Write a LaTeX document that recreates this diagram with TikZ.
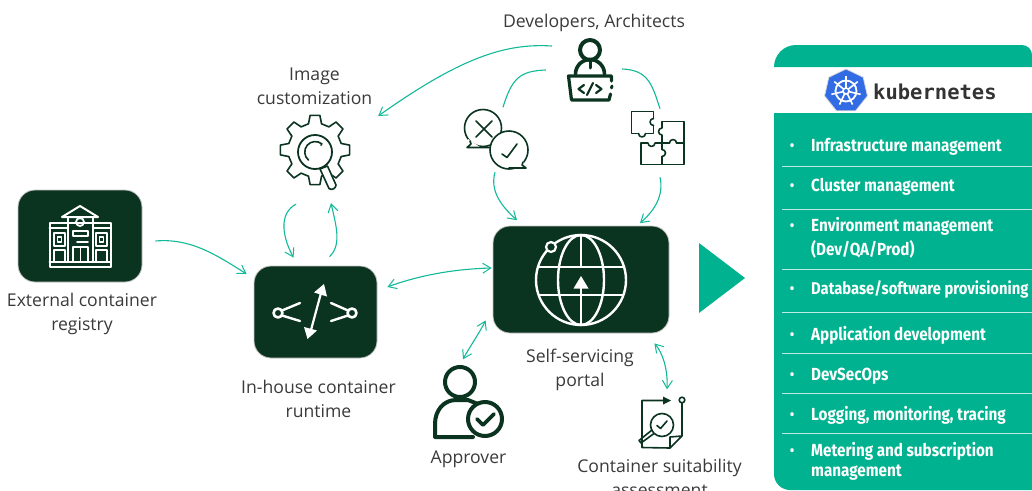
\documentclass[tikz,border=0pt]{standalone}
\usepackage{fontspec}
\usetikzlibrary{arrows.meta}
\setmainfont{Open Sans}
\newfontfamily\listf{Fira Sans}[FakeStretch=0.87]
\newfontfamily\kubef{DejaVu Sans Mono}
\definecolor{dk}{HTML}{0A3320}
\definecolor{tl}{HTML}{00B28F}
\definecolor{cn}{HTML}{12B998}
\definecolor{tx}{HTML}{3A3A3A}
\definecolor{kb}{HTML}{326CE5}
\tikzset{
  x=1pt,y=-1pt,
  darkbox/.style={draw=black!22,line width=.8pt,fill=dk,rounded corners=17pt,inner sep=0pt,minimum width=#1},
  iconbox/.style={inner sep=0pt,minimum width=#1},
  lbl/.style={font=\fontsize{17.6}{24}\selectfont,text=tx,align=center,inner sep=0pt},
  rowtxt/.style={font=\listf\bfseries\fontsize{17.5}{20}\selectfont,text=white,anchor=base west,align=left,inner sep=0pt},
  bul/.style={font=\fontsize{16}{16}\selectfont,text=white,anchor=center,inner sep=0pt,yshift=-3pt},
  conn/.style={draw=cn,line width=1.1pt,-{Straight Barb[length=8pt,width=10pt,line width=1pt]}},
  conn2/.style={draw=cn,line width=1.1pt,{Straight Barb[length=8pt,width=10pt,line width=1pt]}-{Straight Barb[length=8pt,width=10pt,line width=1pt]}},
  plainc/.style={draw=cn,line width=1.1pt},
  wi/.style={draw=white,line width=2pt,line join=round,line cap=round},
  di/.style={draw=dk,line width=1.6pt,line join=round,line cap=round},
  dt/.style={draw=dk,line width=4pt,line join=round,line cap=round},
  sep/.style={draw=white,draw opacity=.75,line width=1pt}
}
\newcommand{\knob}[4]{% x y dx dy : gap in a border for a puzzle notch
  \draw[draw=white,line width=2.2pt] (#1,#2) -- ++(#3*3.2,#4*3.2) ++(-#3*6.4,-#4*6.4) -- ++(#3*3.2,#4*3.2);
}
\begin{document}
\begin{tikzpicture}
\useasboundingbox (0,0) rectangle (1032,490);
\clip (0,0) rectangle (1032,490);

% ---------- main boxes
\node[darkbox=124pt,minimum height=92pt] (ext) at (80,236) {};
\node[darkbox=123pt,minimum height=92pt] (run) at (315.5,312) {};
\node[darkbox=176pt,minimum height=107pt] (por) at (581,279.5) {};

% ---------- icon holders
\node[iconbox=48pt,minimum height=65pt] (dev) at (590,70) {};
\node[iconbox=70pt,minimum height=76pt] (img) at (315,153) {};
\node[iconbox=66pt,minimum height=60pt] (bub) at (497,140) {};
\node[iconbox=56pt,minimum height=56pt] (puz) at (658,138) {};
\node[iconbox=73pt,minimum height=73pt] (app) at (468,402) {};
\node[iconbox=45pt,minimum height=55pt] (ass) at (662,423) {};

% ---------- labels
\node[lbl] (ldev) at (594,22.5) {Developers, Architects};
\node[lbl] (limg) at (314.5,86) {Image\\customization};
\node[lbl] (lext) at (82,314) {External container\\registry};
\node[lbl] (lrun) at (318.5,399) {In-house container\\runtime};
\node[lbl] (lpor) at (580,369.5) {Self-servicing\\portal};
\node[lbl] (lapp) at (468.5,459) {Approver};
\node[lbl] (lass) at (659.5,478) {Container suitability\\assessment};

% ---------- connectors
\draw[conn] ([shift={(-14,-24)}]dev.west) .. controls (505,43) and (460,58) .. ([shift={(28,-37)}]img.east);
\draw[plainc] ([shift={(-20,0)}]dev.west) .. controls (520,71) and (512,78) .. ([shift={(6,-63)}]bub.south);
\draw[conn] ([shift={(-2,2)}]bub.south) .. controls (490,190) and (500,205) .. ([shift={(20,50)}]bub.south);
\draw[plainc] ([shift={(8,-1)}]dev.east) .. controls (648,70) and (652,84) .. ([shift={(2,-1)}]puz.north);
\draw[conn] ([shift={(2,11)}]puz.south) .. controls (664,195) and (655,210) .. ([shift={(-18,57)}]puz.south);
\draw[conn] ([shift={(13,5)}]ext.east) .. controls (190,238) and (215,254) .. ([shift={(-7,-38)}]run.west);
\draw[conn] ([shift={(14,-9)}]run.north) .. controls (342,245) and (336,225) .. ([shift={(16,12)}]img.south);
\draw[conn] ([shift={(-19,13)}]img.south) .. controls (281,212) and (280,232) .. ([shift={(-22,-8)}]run.north);
\draw[conn2] ([shift={(10,-25)}]run.east) .. controls (420,275) and (455,269) .. ([shift={(-1,-11.5)}]por.west);
\draw[conn2] ([shift={(-5,-6)}]app.north) .. controls (469,348) and (480,332) .. ([shift={(-7,-13)}]por.south west);
\draw[conn2] ([shift={(-15,10)}]por.south east) .. controls (662,352) and (668,368) .. ([shift={(5,-6)}]ass.north);

% ---------- big triangle
\fill[tl] (699,243) -- (745,278) -- (699,313) -- cycle;

% ---------- right panel
\fill[tl] (774,67) arc[start angle=180,end angle=270,radius=22] -- (1022,45) arc[start angle=270,end angle=360,radius=10] -- (1032,67) -- cycle;
\fill[tl] (774,113) -- (1032,113) -- (1032,490) -- (790,490) arc[start angle=90,end angle=180,radius=16] -- cycle;
\foreach \yy in {166,209,269,312,353,393,433} \draw[sep] (782,\yy) -- (1032,\yy);

\node[bul] (b1) at (792,145) {•};
\node[rowtxt] (r1) at (811,151) {Infrastructure management};
\node[bul] (b2) at (792,185) {•};
\node[rowtxt] (r2) at (811,191) {Cluster management};
\node[bul] (b3) at (792,225) {•};
\node[rowtxt,font=\listf\bfseries\fontsize{17.5}{24}\selectfont] (r3) at (811,255) {Environment management\\(Dev/QA/Prod)};
\node[bul] (b4) at (792,288) {•};
\node[rowtxt,font=\listf\bfseries\fontsize{17}{20}\selectfont] (r4) at (811,294) {Database/software provisioning};
\node[bul] (b5) at (792,334) {•};
\node[rowtxt] (r5) at (811,340) {Application development};
\node[bul] (b6) at (792,374) {•};
\node[rowtxt] (r6) at (811,380) {DevSecOps};
\node[bul] (b7) at (792,414) {•};
\node[rowtxt] (r7) at (811,420) {Logging, monitoring, tracing};
\node[bul] (b8) at (792,450) {•};
\node[rowtxt] (r8) at (811,476) {Metering and subscription\\management};

% ---------- kubernetes logo
\begin{scope}[shift={(846,91)}]
  \fill[kb,draw=black!15,line width=.8pt,line join=round] (-90:22) -- (-141.4:22) -- (-192.9:22) -- (-244.3:22) -- (-295.7:22) -- (-347.1:22) -- (-38.6:22) -- cycle;
  \draw[white,line width=1.8pt] (0,0) circle[radius=10.5];
  \foreach \a in {-90,-141.4,-192.9,-244.3,-295.7,-347.1,-38.6} \draw[white,line width=1.6pt] (\a:3) -- (\a:15);
  \draw[white,line width=1.6pt] (0,0) circle[radius=3];
\end{scope}
\node[font=\kubef\bfseries\fontsize{20.5}{20}\selectfont,text=black!80,anchor=base west,inner sep=0pt] (kube) at (873,99) {kubernetes};

% ---------- building icon
\draw[wi] (49.5,222.5) rectangle (111,267);
\draw[wi] (49.5,262) -- (111,262);
\draw[wi] (49.5,228) -- (68,228) (93,228) -- (111,228);
\draw[wi] (68,217) -- (68,262) (93,217) -- (93,262);
\draw[wi] (62,217) -- (80,206) -- (98,217) -- cycle;
\draw[wi,line width=1.8pt] (80,222) circle[radius=4];
\draw[wi,line width=1.6pt] (54,233) rectangle (65,246) (57.5,237) rectangle (61.5,242);
\draw[wi,line width=1.6pt] (96,233) rectangle (107,246) (99.5,237) rectangle (103.5,242);
\draw[wi,line width=1.6pt] (54,262) -- (54,250) -- (65,250) -- (65,262);
\draw[wi,line width=1.6pt] (96,262) -- (96,250) -- (107,250) -- (107,262);
\draw[wi,line width=1.6pt] (73,262) -- (73,247) -- (88,247) -- (88,262) (80.5,247) -- (80.5,262);
\draw[wi,line width=1.6pt] (73,231) rectangle (88,236);
\draw[wi,line width=1.6pt] (77,242) -- (88,242);

% ---------- runtime icon
\draw[wi,line width=2.6pt] (278,313) circle[radius=4.5];
\draw[wi,line width=2.4pt] (282,310.5) -- (300,303) (282,315.5) -- (300,321);
\draw[wi,line width=2.6pt] (352,313) circle[radius=4.5];
\draw[wi,line width=2.4pt] (348,310.5) -- (331,303) (348,315.5) -- (331,321);
\draw[white,line width=2.2pt] (321,293) -- (311,330);
\fill[white] (324,284) -- (327,296.5) -- (314,292.5) -- cycle;
\fill[white] (307.5,339) -- (304,327) -- (317,330.5) -- cycle;

% ---------- globe icon
\begin{scope}[shift={(581,280)}]
  \draw[wi,line width=2.4pt] (0,0) circle[radius=45];
  \draw[wi,line width=2.4pt] (0,0) ellipse[x radius=23,y radius=45];
  \draw[wi,line width=2.4pt] (0,-45) -- (0,-13) (-42,-13) -- (42,-13) (-42,15) -- (42,15) (0,8) -- (0,45);
  \fill[white] (0,-4) -- (7.5,8.5) -- (-7.5,8.5) -- cycle;
  \draw[white,line width=2.2pt,fill=dk] (-30,-33) circle[radius=5];
\end{scope}

% ---------- dev icon
\draw[dt] (590,50) circle[radius=10];
\draw[dt,line width=3.6pt] (575.5,74) arc[start angle=180,end angle=360,radius=14.5];
\draw[dt,line width=3pt] (590,60) -- (590,68);
\draw[dt,line width=3.2pt] (611.5,81) -- (611.5,76) -- (568.5,76) -- (571.5,100) -- (609,100) -- (610.5,94);
\draw[dt,line width=3pt] (612,86) -- (611.5,88);
\draw[dt,line width=2.2pt] (584,85) -- (578.5,89) -- (584,93);
\draw[dt,line width=2.2pt] (596,85) -- (601.5,89) -- (596,93);
\draw[dt,line width=2.2pt] (593,83) -- (587,95);

% ---------- gear icon
\begin{scope}[shift={(315,150)}]
  \draw[di] (-14:27) \foreach \a in {0,45,...,315} {-- (\a-14:27) -- (\a-8:35) -- (\a+8:35) -- (\a+14:27)} -- cycle;
  \fill[white] (10,12) -- (25,40) -- (10,40) -- cycle;
  \draw[di,fill=white,line width=1.8pt] (0,2) circle[radius=17];
  \draw[di] (7,-6) arc[start angle=-50,end angle=-230,radius=10.5];
  \fill[dk] (6,-5) circle[radius=1];
  \draw[di,fill=white] (5,19) -- (12.5,16) -- (21,35) .. controls (21,38) and (17,41) .. (14,38.5) -- cycle;
\end{scope}

% ---------- speech bubbles
\draw[di] (483,128) circle[radius=18.5];
\fill[white] (468,139) -- (466,148) -- (480,147) -- cycle;
\draw[di] (470,141) -- (471,144) -- (467,147.5) -- (490,147.5);
\draw[di] (476,121) -- (492,137) (492,121) -- (476,137);
\draw[di,fill=white] (509,150) circle[radius=19];
\fill[white] (523,161) -- (527,168.5) -- (511,168) -- cycle;
\draw[di] (523,162) -- (522,165) -- (526,168) -- (509,168);
\draw[di] (502,154) -- (507,157.5) -- (517,144);

% ---------- puzzle icon
\draw[di] (631.5,111.5) rectangle (653.5,133.5);
\draw[di] (662,121.5) rectangle (684,143);
\draw[di] (641,143) rectangle (662,164.5);
\draw[di] (662,143) rectangle (684,164.5);
\knob{653.5}{122}{0}{1}
\knob{662}{131.5}{0}{1}
\knob{642}{133.5}{1}{0}
\knob{673}{143}{1}{0}
\knob{651.5}{143}{1}{0}
\knob{662}{153}{0}{1}
\draw[di] (653.5,118.5) arc[start angle=270,end angle=90,radius=3.5];
\draw[di] (662,128) arc[start angle=270,end angle=90,radius=3.5];
\draw[di] (638.5,133.5) arc[start angle=180,end angle=0,radius=3.5];
\draw[di] (669.5,143) arc[start angle=180,end angle=360,radius=3.5];
\draw[di] (648,143) arc[start angle=180,end angle=0,radius=3.5];
\draw[di] (662,149.5) arc[start angle=-90,end angle=90,radius=3.5];

% ---------- approver icon
\draw[dt] (460,382) circle[radius=15];
\draw[dt] (473,437) -- (435,437) -- (435,424) .. controls (435,410) and (444,400) .. (456,400) -- (468,400) -- (478,404);
\draw[dt,fill=white] (485,419) circle[radius=17];
\draw[dt,line width=3.6pt] (477,419) -- (483,425) -- (494,414);

% ---------- assessment icon
\draw[di] (665,400.5) -- (642,400.5) -- (642,447.5) -- (670,448);
\fill[dk] (671,400.5) -- (663,396.5) -- (663,404.5) -- cycle;
\draw[di] (682,403) -- (682,436) -- (670,448) -- (670,437) -- (682,436);
\draw[di] (682,400) circle[radius=2.8];
\draw[di,fill=white] (662,425) circle[radius=11.5];
\draw[di] (654,433.5) -- (641,443) (652,430) -- (639,440.5) -- (641,443);
\draw[di] (657,425.5) -- (660.5,428.5) -- (667,421);
\end{tikzpicture}
\end{document}
